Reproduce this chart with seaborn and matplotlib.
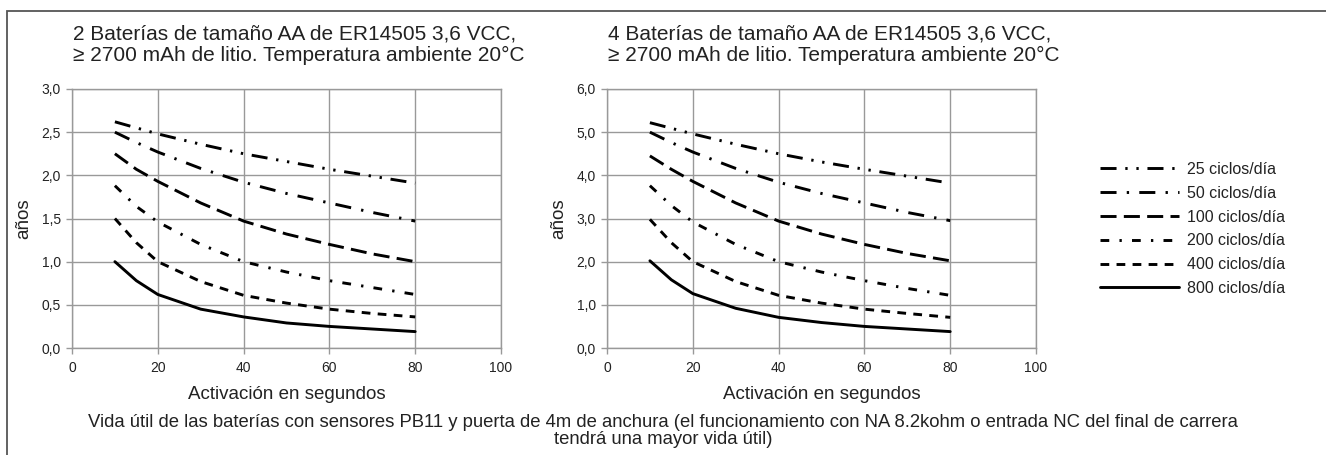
import matplotlib
matplotlib.use("Agg")
import matplotlib.pyplot as plt
import seaborn as sns
import pandas as pd
from matplotlib.patches import Rectangle
from matplotlib.lines import Line2D

sns.set_theme(style="white")
plt.rcParams['font.family'] = ['Liberation Sans', 'DejaVu Sans']

activacion = [10, 15, 20, 30, 40, 50, 60, 70, 80]
series_labels = ["25 ciclos/día", "50 ciclos/día", "100 ciclos/día",
                 "200 ciclos/día", "400 ciclos/día", "800 ciclos/día"]

left_25 = [2.62, 2.55, 2.48, 2.36, 2.25, 2.16, 2.07, 1.99, 1.91]
left_50 = [2.50, 2.38, 2.27, 2.08, 1.92, 1.79, 1.68, 1.57, 1.47]
left_100 = [2.25, 2.07, 1.93, 1.68, 1.47, 1.32, 1.20, 1.09, 1.00]
left_200 = [1.88, 1.64, 1.46, 1.20, 1.00, 0.88, 0.78, 0.70, 0.62]
left_400 = [1.50, 1.22, 1.00, 0.77, 0.61, 0.52, 0.45, 0.40, 0.36]
left_800 = [1.00, 0.78, 0.62, 0.45, 0.36, 0.29, 0.25, 0.22, 0.19]

right_25 = [5.22, 5.09, 4.96, 4.72, 4.50, 4.31, 4.14, 3.98, 3.82]
right_50 = [5.00, 4.76, 4.54, 4.16, 3.84, 3.58, 3.36, 3.14, 2.95]
right_100 = [4.45, 4.14, 3.86, 3.36, 2.94, 2.64, 2.40, 2.19, 2.02]
right_200 = [3.76, 3.30, 2.92, 2.40, 2.00, 1.76, 1.56, 1.38, 1.22]
right_400 = [2.98, 2.44, 2.00, 1.54, 1.22, 1.04, 0.90, 0.80, 0.71]
right_800 = [2.02, 1.58, 1.26, 0.92, 0.71, 0.59, 0.50, 0.44, 0.38]

left_title = "2 Baterías de tamaño AA de ER14505 3,6 VCC,\n≥ 2700 mAh de litio. Temperatura ambiente 20°C"
right_title = "4 Baterías de tamaño AA de ER14505 3,6 VCC,\n≥ 2700 mAh de litio. Temperatura ambiente 20°C"
xlabel = "Activación en segundos"
ylabel = "años"
caption = ("Vida útil de las baterías con sensores PB11 y puerta de 4m de anchura (el funcionamiento con NA 8.2kohm o entrada NC del final de carrera\n"
           "tendrá una mayor vida útil)")
left_yticks = [0.0, 0.5, 1.0, 1.5, 2.0, 2.5, 3.0]
right_yticks = [0.0, 1.0, 2.0, 3.0, 4.0, 5.0, 6.0]
xticks = [0, 20, 40, 60, 80, 100]

dash_styles = [(0, (5.5, 3, 0.8, 3, 0.8, 3)),
               (0, (5.5, 3.5, 0.8, 3.5)),
               (0, (5.5, 2.5)),
               (0, (3, 3.5, 0.8, 3.5)),
               (0, (3, 2.5)),
               "-"]

def make_df(vals):
    rows = []
    for lab, v in zip(series_labels, vals):
        for x, y in zip(activacion, v):
            rows.append({"x": x, "y": y, "serie": lab})
    return pd.DataFrame(rows)

df_left = make_df([left_25, left_50, left_100, left_200, left_400, left_800])
df_right = make_df([right_25, right_50, right_100, right_200, right_400, right_800])

W, H = 1326, 455
fig = plt.figure(figsize=(W / 100, H / 100), dpi=100)

def px_axes(x0, x1, y0, y1):
    return fig.add_axes([x0 / W, 1 - y1 / H, (x1 - x0) / W, (y1 - y0) / H])

ax1 = px_axes(72, 501, 89, 348)
ax2 = px_axes(607, 1036, 89, 348)

TXT = "#222222"

def draw(ax, df, yticks, title, title_x):
    for lab, ls in zip(series_labels, dash_styles):
        sub = df[df["serie"] == lab]
        sns.lineplot(data=sub, x="x", y="y", ax=ax, color="black",
                     linewidth=2.1, linestyle=ls, legend=False)
    ax.set_xlim(0, 100)
    ax.set_ylim(yticks[0], yticks[-1])
    ax.set_xticks(xticks)
    ax.set_yticks(yticks)
    ax.set_yticklabels([f"{t:.1f}".replace(".", ",") for t in yticks])
    ax.set_xticklabels([str(t) for t in xticks])
    ax.grid(True, color="#999999", linewidth=1.0)
    ax.set_axisbelow(True)
    for s in ax.spines.values():
        s.set_color("#999999")
        s.set_linewidth(1.0)
    ax.tick_params(axis="both", which="major", length=4, width=1.0,
                   color="#999999", labelsize=10, labelcolor=TXT,
                   direction="out", pad=4)
    ax.tick_params(axis="x", pad=5)
    ax.tick_params(left=True, bottom=True)
    ax.set_xlabel(xlabel, fontsize=13.5, color=TXT, labelpad=8)
    ax.set_ylabel(ylabel, fontsize=13.5, color=TXT, labelpad=7)
    fig.text(title_x / W, 1 - 25 / H, title, ha="left", va="top",
             fontsize=15, color=TXT, linespacing=1.15)

draw(ax1, df_left, left_yticks, left_title, 73)
draw(ax2, df_right, right_yticks, right_title, 608)

handles = [Line2D([], [], color="black", linewidth=2.1, linestyle=ls)
           for ls in dash_styles]
fig.legend(handles, series_labels, loc="center left",
           bbox_to_anchor=(1086 / W, 1 - 229 / H), frameon=False,
           fontsize=11.5, handlelength=4.9, labelspacing=0.55,
           handletextpad=0.55, labelcolor=TXT)

fig.text(663 / W, 1 - 431 / H, caption, ha="center", va="center",
         fontsize=13.3, color=TXT, linespacing=1.0)

fig.patches.append(Rectangle((7 / W, -0.1), 1.2, 1 - 11 / H + 0.1,
                             transform=fig.transFigure, fill=False,
                             edgecolor="#555555", linewidth=1.3,
                             clip_on=False))

fig.savefig("out.png", dpi=100, facecolor="white")
